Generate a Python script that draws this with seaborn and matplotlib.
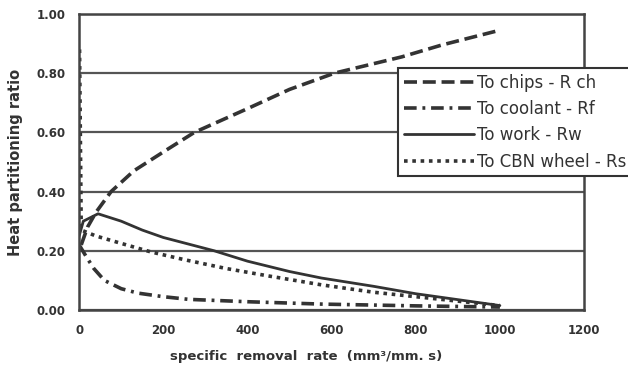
import matplotlib
matplotlib.use("Agg")
import matplotlib.pyplot as plt
import seaborn as sns
import pandas as pd

# Data
chips_x = [5, 20, 40, 76, 130, 207, 274, 400, 500, 607, 767, 862, 1000]
chips_y = [0.22, 0.28, 0.33, 0.40, 0.47, 0.54, 0.60, 0.68, 0.745, 0.80, 0.855, 0.895, 0.945]

coolant_x = [0, 17, 35, 60, 100, 140, 200, 260, 400, 576, 800, 1000]
coolant_y = [0.22, 0.18, 0.14, 0.10, 0.072, 0.057, 0.045, 0.036, 0.028, 0.02, 0.014, 0.01]

work_x = [0, 10, 45, 100, 150, 200, 321, 400, 500, 576, 700, 800, 900, 1000]
work_y = [0.25, 0.30, 0.325, 0.30, 0.27, 0.245, 0.20, 0.165, 0.13, 0.108, 0.08, 0.055, 0.035, 0.015]

wheel_x = [1, 5, 40, 100, 171, 250, 350, 450, 576, 700, 800, 900, 1000]
wheel_y = [0.88, 0.27, 0.25, 0.225, 0.196, 0.17, 0.14, 0.115, 0.085, 0.06, 0.045, 0.03, 0.015]

labels = ["To chips - R ch", "To coolant - Rf", "To work - Rw", "To CBN wheel - Rs"]
x_ticks = [0, 200, 400, 600, 800, 1000, 1200]
y_ticks = [0.0, 0.2, 0.4, 0.6, 0.8, 1.0]

sns.set_style("white")
plt.rcParams['font.family'] = ['DejaVu Sans']

fig = plt.figure(figsize=(6.28, 3.76), dpi=100)
ax = fig.add_axes([0.126, 0.1755, 0.804, 0.7875])

col = "#333333"
series = [
    (chips_x, chips_y, labels[0], dict(linestyle=(0, (3.6, 1.6)), linewidth=2.6)),
    (coolant_x, coolant_y, labels[1], dict(linestyle=(0, (3.5, 1.6, 0.8, 1.6)), linewidth=2.6)),
    (work_x, work_y, labels[2], dict(linestyle="-", linewidth=2.0)),
    (wheel_x, wheel_y, labels[3], dict(linestyle=(0, (1, 1.3)), linewidth=2.6)),
]
for xs, ys, lab, kw in series:
    df = pd.DataFrame({"x": xs, "y": ys})
    sns.lineplot(data=df, x="x", y="y", ax=ax, color=col, label=lab, sort=False,
                 estimator=None, **kw)

ax.set_xlim(0, 1200)
ax.set_ylim(0, 1.0)
ax.set_xticks(x_ticks)
ax.set_yticks(y_ticks)
ax.set_xticklabels([str(t) for t in x_ticks], fontsize=8.5, fontweight="bold", color="#333333")
ax.set_yticklabels([f"{t:.2f}" for t in y_ticks], fontsize=8.5, fontweight="bold", color="#333333")
ax.yaxis.grid(True, color="#555555", linewidth=1.6)
ax.xaxis.grid(False)
for s in ax.spines.values():
    s.set_color("#444444")
    s.set_linewidth(1.8)
ax.tick_params(axis="both", direction="out", length=4, width=1.2, color="#444444", pad=6)

ax.set_xlabel("specific  removal  rate  (mm³/mm. s)", fontsize=9.5, fontweight="bold",
              color="#333333")
ax.xaxis.set_label_coords(0.45, -0.135)
ax.set_ylabel("Heat partitioning ratio", fontsize=10.5, fontweight="bold", color="#333333")
ax.yaxis.set_label_coords(-0.112, 0.5)

leg = ax.legend(loc="upper left", bbox_to_anchor=(0.632, 0.818), frameon=True,
                fontsize=12, handlelength=4.2, handletextpad=0.15,
                labelspacing=0.5, borderpad=0.35, fancybox=False, borderaxespad=0)
leg.get_frame().set_edgecolor("#333333")
leg.get_frame().set_linewidth(1.5)
leg.get_frame().set_facecolor("white")
leg.get_frame().set_alpha(1)
for t in leg.get_texts():
    t.set_color("#333333")

fig.savefig("out.png", dpi=100)
